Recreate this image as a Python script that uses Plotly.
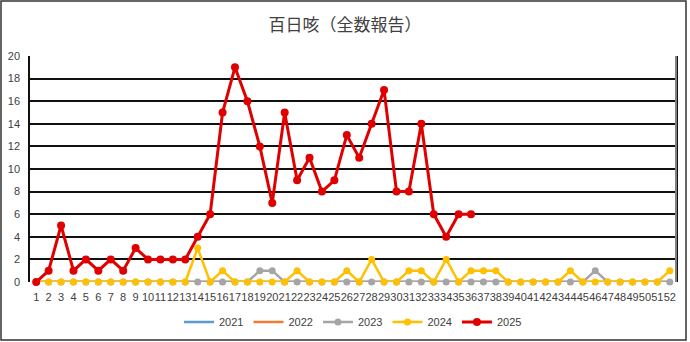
import plotly.graph_objects as go

weeks = list(range(1, 53))
tick_labels = [str(w) for w in weeks]

y2021 = [0] * 52
y2022 = [0] * 52
y2023 = [0, 0, 0, 0, 0, 0, 0, 0, 0, 0, 0, 0, 0, 0, 0, 0, 0, 0, 1, 1,
         0, 0, 0, 0, 0, 0, 0, 0, 0, 0, 0, 0, 0, 0, 0, 0, 0, 0, 0, 0,
         0, 0, 0, 0, 0, 1, 0, 0, 0, 0, 0, 0]
y2024 = [0, 0, 0, 0, 0, 0, 0, 0, 0, 0, 0, 0, 0, 3, 0, 1, 0, 0, 0, 0,
         0, 1, 0, 0, 0, 1, 0, 2, 0, 0, 1, 1, 0, 2, 0, 1, 1, 1, 0, 0,
         0, 0, 0, 1, 0, 0, 0, 0, 0, 0, 0, 1]
y2025 = [0, 1, 5, 1, 2, 1, 2, 1, 3, 2, 2, 2, 2, 4, 6, 15, 19, 16, 12, 7,
         15, 9, 11, 8, 9, 13, 11, 14, 17, 8, 8, 14, 6, 4, 6, 6]

series = [
    ("2021", y2021, "#5B9BD5", False, 2.5, 6),
    ("2022", y2022, "#ED7D31", False, 2.5, 6),
    ("2023", y2023, "#A5A5A5", True, 2.5, 7),
    ("2024", y2024, "#FFC000", True, 2.5, 7),
    ("2025", y2025, "#E00000", True, 3, 8),
]

fig = go.Figure()
for name, ys, color, markers, lw, ms in series:
    fig.add_trace(go.Scatter(
        x=weeks[:len(ys)], y=ys, name=name,
        mode="lines+markers" if markers else "lines",
        line=dict(color=color, width=lw),
        marker=dict(color=color, size=ms),
        cliponaxis=False,
    ))

W, H = 690, 342
L, R, T, B = 30, 14, 56, 60
pw, ph = W - L - R, H - T - B

def px_x(x):
    return (x - L) / pw

def px_y(y):
    return (H - B - y) / ph

fig.add_shape(type="rect", xref="paper", yref="paper",
              x0=px_x(1), x1=px_x(686), y0=px_y(340), y1=px_y(1),
              line=dict(color="#333333", width=1.5), layer="below")
fig.add_shape(type="line", xref="paper", yref="paper",
              x0=1, x1=1, y0=0, y1=1,
              line=dict(color="#808080", width=2), layer="above")

fig.update_layout(
    width=W, height=H,
    margin=dict(l=L, r=R, t=T, b=B, autoexpand=False),
    paper_bgcolor="white", plot_bgcolor="white",
    font=dict(family="Liberation Sans, Arial, sans-serif", size=11, color="#404040"),
    title=dict(text="百日咳（全数報告）", x=0.5, xanchor="center", y=1 - 25 / H, yanchor="middle",
               font=dict(family="Noto Sans CJK JP", size=17, color="#404040")),
    xaxis=dict(range=[0.5, 52.5], tickmode="array", tickvals=weeks, ticktext=tick_labels,
               tickangle=0, showgrid=False, zeroline=False, showline=False,
               ticklabelstandoff=7, automargin=False,
               tickfont=dict(size=11, color="#404040")),
    yaxis=dict(range=[0, 20], dtick=2, showgrid=True, gridcolor="#111111", gridwidth=1.5,
               zeroline=False, showline=True, linecolor="#111111", linewidth=1.5, mirror=True,
               ticklabelstandoff=6, automargin=False, tickfont=dict(size=11, color="#404040")),
    legend=dict(orientation="h", x=0.5, xanchor="center", y=px_y(322), yanchor="middle",
                font=dict(size=11, color="#404040"), itemwidth=30),
    showlegend=True,
)

fig.write_html("out.html")
